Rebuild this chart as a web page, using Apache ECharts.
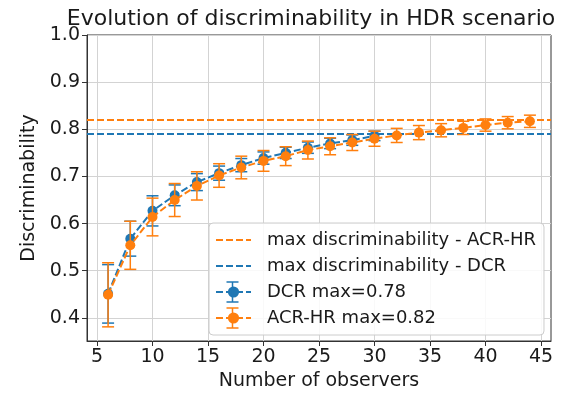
<!DOCTYPE html>
<html>
<head>
<meta charset="utf-8">
<script src="https://cdn.jsdelivr.net/npm/echarts@6/dist/echarts.min.js"></script>
<style>html,body{margin:0;padding:0;background:#fff;}#c{width:566px;height:396px;}</style>
</head>
<body>
<div id="c"></div>
<script>
// ---- data ----
var dcrX    = [6, 8, 10, 12, 14, 16, 18, 20, 22, 24, 26, 28, 30];
var dcrMean = [0.451, 0.568, 0.627, 0.660, 0.688, 0.707, 0.724, 0.739, 0.750, 0.761, 0.770, 0.777, 0.786];
var dcrErr  = [0.062, 0.037, 0.032, 0.022, 0.018, 0.015, 0.014, 0.013, 0.012, 0.012, 0.011, 0.011, 0.010];

var acrX    = [6, 8, 10, 12, 14, 16, 18, 20, 22, 24, 26, 28, 30, 32, 34, 36, 38, 40, 42, 44];
var acrMean = [0.449, 0.554, 0.614, 0.650, 0.680, 0.702, 0.719, 0.733, 0.743, 0.756, 0.764, 0.772, 0.780, 0.787, 0.793, 0.798, 0.803, 0.809, 0.814, 0.817];
var acrErr  = [0.068, 0.051, 0.040, 0.035, 0.030, 0.025, 0.024, 0.022, 0.020, 0.019, 0.018, 0.017, 0.016, 0.015, 0.015, 0.014, 0.014, 0.013, 0.013, 0.013];

var maxAcr = 0.817;
var maxDcr = 0.785;

var xTicks = [5, 10, 15, 20, 25, 30, 35, 40, 45];
var yTicks = [0.4, 0.5, 0.6, 0.7, 0.8, 0.9, 1.0];

var legendNames = ['max discriminability - ACR-HR', 'max discriminability - DCR', 'DCR max=0.78', 'ACR-HR max=0.82'];

var BLUE = '#1f77b4', ORANGE = '#ff7f0e';
var FONT = 'DejaVu Sans';

function zipPts(xs, ys) { return xs.map(function (x, i) { return [x, ys[i]]; }); }
function zipErr(xs, ys, es) { return xs.map(function (x, i) { return [x, ys[i] - es[i], ys[i] + es[i]]; }); }

function errRender(color) {
  return function (params, api) {
    var x = api.value(0), lo = api.value(1), hi = api.value(2);
    var pLo = api.coord([x, lo]), pHi = api.coord([x, hi]);
    var cap = 6;
    var st = { stroke: color, lineWidth: 1.5 };
    return {
      type: 'group',
      children: [
        { type: 'line', shape: { x1: pLo[0], y1: pLo[1], x2: pHi[0], y2: pHi[1] }, style: st },
        { type: 'line', shape: { x1: pLo[0] - cap, y1: pLo[1], x2: pLo[0] + cap, y2: pLo[1] }, style: st },
        { type: 'line', shape: { x1: pHi[0] - cap, y1: pHi[1], x2: pHi[0] + cap, y2: pHi[1] }, style: st }
      ]
    };
  };
}

// legend error-bar glyphs (decoration of the legend key)
var LEG_LEFT = 209, LEG_TOP = 223, ROW = 26;
function legendErrGlyph(row, color) {
  var cx = LEG_LEFT + 6 + 17.5, cy = LEG_TOP + 7 + 10 + ROW * row;
  var st = { stroke: color, lineWidth: 1.5 };
  return [
    { type: 'line', z: 100, zlevel: 0, silent: true, shape: { x1: cx, y1: cy - 10, x2: cx, y2: cy + 10 }, style: st },
    { type: 'line', z: 100, zlevel: 0, silent: true, shape: { x1: cx - 6, y1: cy - 10, x2: cx + 6, y2: cy - 10 }, style: st },
    { type: 'line', z: 100, zlevel: 0, silent: true, shape: { x1: cx - 6, y1: cy + 10, x2: cx + 6, y2: cy + 10 }, style: st }
  ];
}

var chart = echarts.init(document.getElementById('c'), null, { renderer: 'canvas' });
chart.setOption({
  animation: false,
  backgroundColor: '#fff',
  title: {
    text: 'Evolution of discriminability in HDR scenario',
    left: 306, top: 3, textAlign: 'center',
    textStyle: { fontFamily: FONT, fontSize: 22, fontWeight: 'normal', color: '#1a1a1a' }
  },
  grid: { left: 87, right: 15, top: 35, bottom: 53, show: true, borderColor: '#333', borderWidth: 1, backgroundColor: 'transparent' },
  legend: {
    orient: 'vertical', left: LEG_LEFT, top: LEG_TOP,
    padding: [7, 8, 7, 6],
    itemWidth: 35, itemHeight: 14, itemGap: 6,
    backgroundColor: 'rgba(255,255,255,0.85)', borderColor: '#cccccc', borderWidth: 1, borderRadius: 4,
    textStyle: { fontFamily: FONT, fontSize: 18, color: '#1a1a1a', lineHeight: 20, padding: [0, 0, 0, 11] },
    data: [
      { name: legendNames[0], itemStyle: { opacity: 0 } },
      { name: legendNames[1], itemStyle: { opacity: 0 } },
      { name: legendNames[2] },
      { name: legendNames[3] }
    ]
  },
  xAxis: {
    type: 'value', min: 4.1, max: 45.9,
    name: 'Number of observers', nameLocation: 'middle', nameGap: 31,
    nameTextStyle: { fontFamily: FONT, fontSize: 19, color: '#1a1a1a' },
    axisLine: { show: true, lineStyle: { color: '#333', width: 1 } },
    axisTick: { show: true, length: 5, lineStyle: { color: '#333' }, customValues: xTicks },
    axisLabel: { fontFamily: FONT, fontSize: 19, color: '#1a1a1a', margin: 7, customValues: xTicks, formatter: function (v) { return String(v); } },
    splitLine: { show: true, lineStyle: { color: '#d3d3d3', width: 1 } }
  },
  yAxis: {
    type: 'value', min: 0.351, max: 1.0,
    name: 'Discriminability', nameLocation: 'middle', nameGap: 47,
    nameTextStyle: { fontFamily: FONT, fontSize: 19, color: '#1a1a1a' },
    axisLine: { show: true, lineStyle: { color: '#333', width: 1 } },
    axisTick: { show: true, length: 5, lineStyle: { color: '#333' }, customValues: yTicks },
    axisLabel: { fontFamily: FONT, fontSize: 19, color: '#1a1a1a', margin: 7, customValues: yTicks, formatter: function (v) { return v.toFixed(1); } },
    splitLine: { show: true, lineStyle: { color: '#d3d3d3', width: 1 } }
  },
  graphic: { elements: legendErrGlyph(2, BLUE).concat(legendErrGlyph(3, ORANGE)) },
  series: [
    {
      name: legendNames[0], type: 'line', data: [], symbol: 'none', z: 3,
      lineStyle: { color: ORANGE, width: 2, type: [7, 3] }, itemStyle: { color: ORANGE },
      markLine: { silent: true, symbol: 'none', label: { show: false },
        lineStyle: { color: ORANGE, width: 2, type: [7, 3] }, data: [{ yAxis: maxAcr }] }
    },
    {
      name: legendNames[1], type: 'line', data: [], symbol: 'none', z: 3,
      lineStyle: { color: BLUE, width: 2, type: [7, 3] }, itemStyle: { color: BLUE },
      markLine: { silent: true, symbol: 'none', label: { show: false },
        lineStyle: { color: BLUE, width: 2, type: [7, 3] }, data: [{ yAxis: maxDcr }] }
    },
    {
      name: legendNames[2] + '-err', type: 'custom', z: 4, renderItem: errRender(BLUE),
      data: zipErr(dcrX, dcrMean, dcrErr), encode: { x: 0, y: [1, 2] }, silent: true
    },
    {
      name: legendNames[2], type: 'line', z: 5, data: zipPts(dcrX, dcrMean),
      symbol: 'circle', symbolSize: 10, showSymbol: true,
      lineStyle: { color: BLUE, width: 2, type: [7, 3] }, itemStyle: { color: BLUE, borderWidth: 0 }
    },
    {
      name: legendNames[3] + '-err', type: 'custom', z: 6, renderItem: errRender(ORANGE),
      data: zipErr(acrX, acrMean, acrErr), encode: { x: 0, y: [1, 2] }, silent: true
    },
    {
      name: legendNames[3], type: 'line', z: 7, data: zipPts(acrX, acrMean),
      symbol: 'circle', symbolSize: 10, showSymbol: true,
      lineStyle: { color: ORANGE, width: 2, type: [7, 3] }, itemStyle: { color: ORANGE, borderWidth: 0 }
    }
  ]
});
</script>
</body>
</html>
